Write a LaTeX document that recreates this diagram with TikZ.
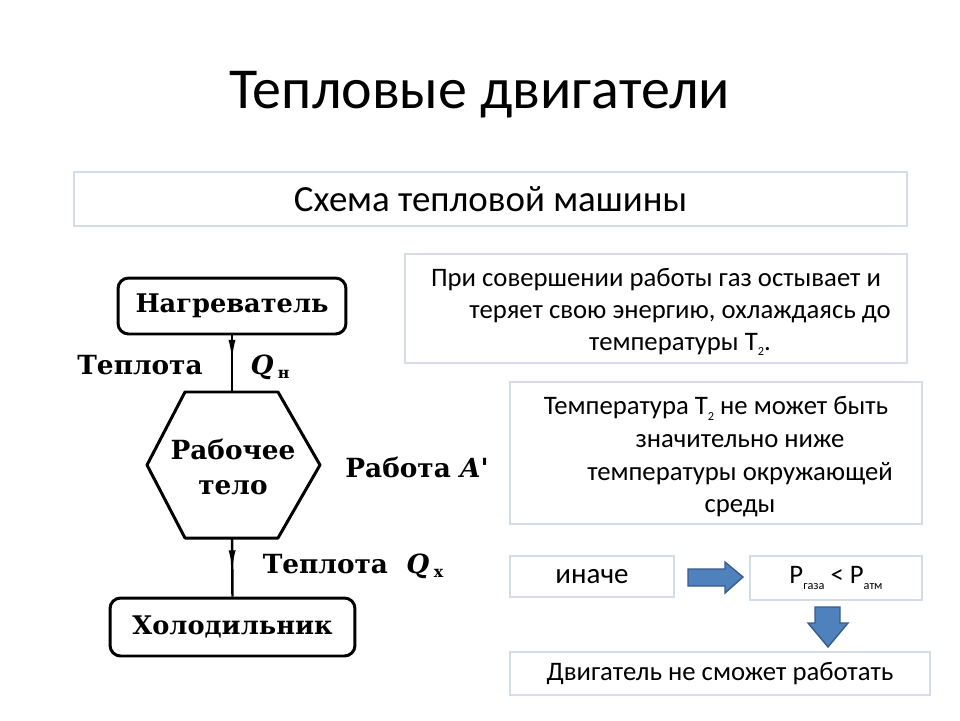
\documentclass[tikz,border=0pt]{standalone}
\usepackage{fontspec}
\setmainfont{Carlito}
\newfontfamily\schemefont{DejaVu Serif}
\usetikzlibrary{arrows.meta, decorations.markings}

\definecolor{boxline}{RGB}{214,220,229}
\definecolor{arrowfill}{RGB}{79,129,189}
\definecolor{arrowline}{RGB}{56,93,138}

\newcommand\lowtext[1]{\raisebox{-0.45ex}{\scriptsize #1}}
\newcommand\qsub[1]{\raisebox{-0.35ex}{\small #1}}
\newcommand\hang{\hspace*{0.96cm}}

\tikzset{
  notebox/.style={draw=boxline, line width=0.8pt, inner sep=0pt, align=center, font=\fontsize{15.2}{18.4}\selectfont},
  blockbox/.style={draw=black, line width=1.7pt, rounded corners=6pt, inner sep=0pt, font=\schemefont\bfseries\fontsize{14.6}{18}\selectfont},
  schemelabel/.style={font=\schemefont\bfseries\fontsize{15}{18}\selectfont},
  flow/.style={line width=1.4pt, postaction={decorate}},
  bluearrow/.style={fill=arrowfill, draw=arrowline, line width=0.8pt}
}

\begin{document}
\begin{tikzpicture}[x=0.02cm,y=-0.02cm]
    \path[use as bounding box, fill=white] (0,0) rectangle (960,720);
    \node (title) at (480,95) {\fontsize{33}{40}\selectfont Тепловые двигатели};
    \node[notebox, minimum width=16.66cm, minimum height=1.08cm, font=\fontsize{21}{25}\selectfont] (scheme) at (490.5,199) {Схема тепловой машины};
    \node[notebox, minimum width=10.04cm, minimum height=2.18cm] (cooling) at (656,308.5) {};
    \node[align=center, font=\fontsize{15.2}{18.2}\selectfont] (coolingtext) at (656,312) {При совершении работы газ остывает и\\\hang теряет свою энергию, охлаждаясь до\\\hang температуры T\lowtext{2}.};
    \node[notebox, minimum width=8.24cm, minimum height=2.84cm] (limit) at (716,453) {};
    \node[align=center, font=\fontsize{15.2}{18.6}\selectfont] (limittext) at (716,457) {Температура T\lowtext{2} не может быть\\\hang значительно ниже\\\hang температуры окружающей\\\hang среды};
    \node[notebox, minimum width=3.28cm, minimum height=0.82cm, font=\fontsize{16.5}{20}\selectfont] (otherwise) at (592,576.5) {иначе};
    \node[notebox, minimum width=3.44cm, minimum height=0.88cm] (pressure) at (836,578) {P\lowtext{газа} < P\lowtext{атм}};
    \node[notebox, minimum width=8.4cm, minimum height=0.86cm] (result) at (720,673.5) {Двигатель не сможет работать};
    \draw[bluearrow] (688,569)--(725,569)--(725,562)--(743,577)--(725,593)--(725,586)--(688,586)--cycle;
    \draw[bluearrow] (815,607)--(840,607)--(840,623)--(848,623)--(828,647)--(808,623)--(815,623)--cycle;

    \node[blockbox, minimum width=4.56cm, minimum height=1.12cm] (heater) at (232,306) {Нагреватель};
    \node[blockbox, minimum width=4.9cm, minimum height=1.16cm] (cooler) at (232.5,627) {Холодильник};
    \draw[line width=1.7pt, line join=round] (185,392)--(278,392)--(320,465)--(278,538)--(185,538)--(147,465)--cycle;
    \coordinate (bodytop) at (232,392);
    \coordinate (bodybottom) at (232,538);
    \node[schemelabel, align=center, font=\schemefont\bfseries\fontsize{15}{20}\selectfont] (body) at (233,467) {Рабочее\\тело};
    \draw[flow, decoration={markings, mark=at position 0.45 with {\arrow{Latex[length=12pt,width=4pt]}}}] (heater.south) -- (bodytop);
    \draw[flow, decoration={markings, mark=at position 0.57 with {\arrow{Latex[length=12pt,width=4pt]}}}] (bodybottom) -- (cooler.north);
    \node[schemelabel] (heatin) at (140,365) {Теплота};
    \node[schemelabel] (qin) at (270,367) {\itshape Q\,\upshape\qsub{н}};
    \node[schemelabel] (work) at (417,467) {Работа \itshape A'};
    \node[schemelabel] (heatout) at (353,566) {Теплота \ \itshape Q\,\upshape\qsub{х}};
\end{tikzpicture}
\end{document}
